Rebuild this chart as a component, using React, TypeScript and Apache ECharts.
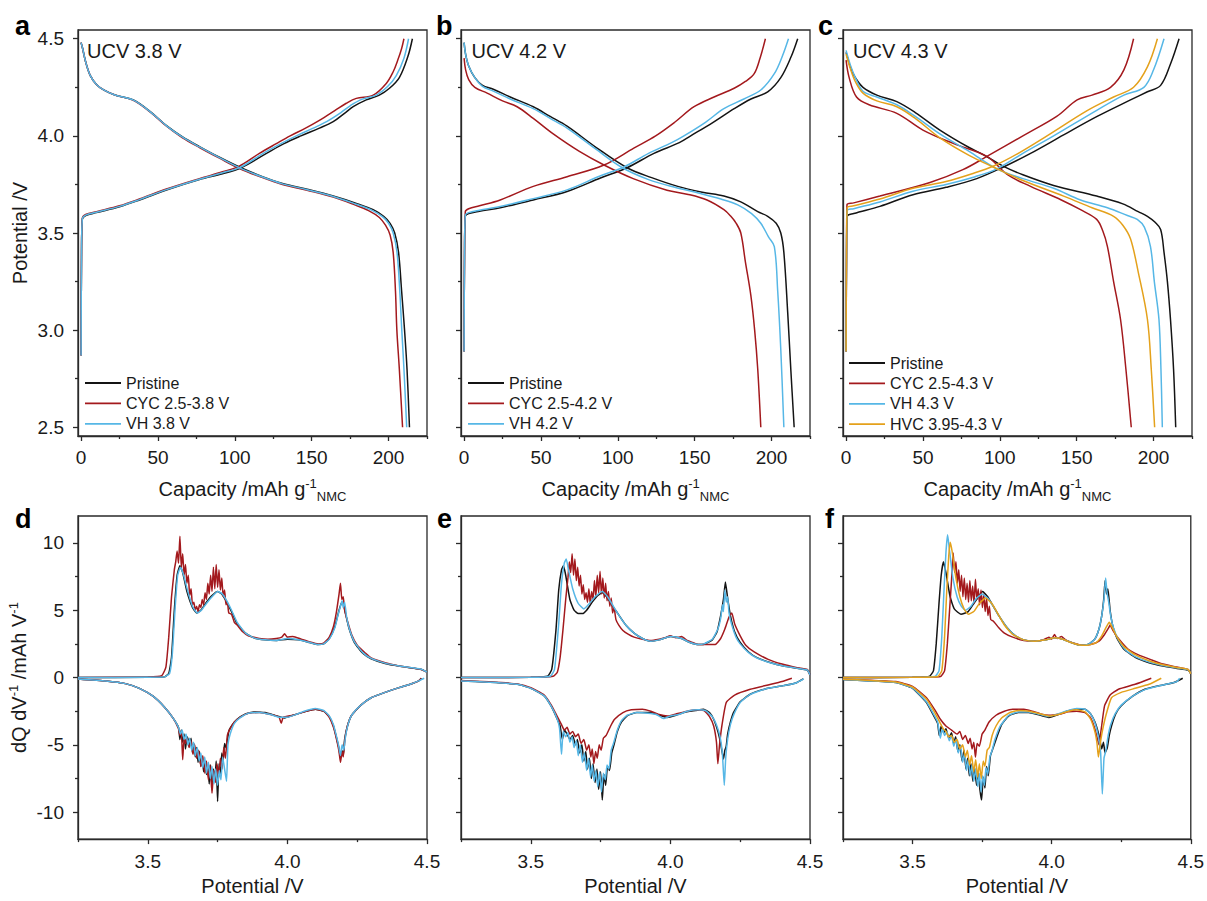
import React, { useEffect, useRef } from 'react';
import * as echarts from 'echarts';

type Pt = [number, number];

// ---------- Panel a (UCV 3.8 V): capacity (mAh/g) vs potential (V) ----------
const aPriC: Pt[] = [[0,2.87],[0.3,3.4],[0.8,3.57],[3,3.59],[10,3.605],[25,3.635],[38,3.67],[55,3.72],[77,3.775],[92,3.805],[104,3.836],[120.6,3.91],[132,3.96],[143,4.0],[155,4.04],[164,4.073],[172,4.12],[177,4.15],[185.5,4.185],[194,4.21],[200.6,4.245],[207,4.3],[212.5,4.407],[215.5,4.5]];
const aCycC: Pt[] = [[0,2.87],[0.3,3.4],[0.8,3.575],[3,3.595],[10,3.61],[25,3.64],[38,3.675],[55,3.725],[77,3.78],[92,3.815],[102.6,3.843],[116,3.91],[127,3.96],[136,4.0],[146,4.04],[155,4.08],[165,4.13],[172.5,4.168],[179,4.193],[190,4.21],[198.5,4.27],[203,4.33],[206,4.39],[208.5,4.45],[210,4.5]];
const aVhC: Pt[] = [[0,2.87],[0.3,3.4],[0.8,3.572],[3,3.592],[10,3.607],[25,3.637],[38,3.672],[55,3.722],[77,3.777],[92,3.81],[103.5,3.838],[118.5,3.91],[130,3.96],[140,4.0],[151,4.04],[160,4.075],[169,4.12],[175,4.155],[182.5,4.188],[192,4.21],[199.5,4.255],[205,4.31],[210,4.4],[213,4.5]];
const aPriD: Pt[] = [[0,4.48],[1,4.45],[3,4.38],[6,4.31],[10,4.265],[15,4.235],[22,4.21],[34,4.185],[45,4.125],[56,4.05],[66,3.995],[77,3.945],[90,3.89],[104,3.836],[118,3.79],[131,3.755],[147,3.725],[164,3.69],[180,3.65],[190,3.62],[197,3.585],[201,3.55],[204,3.5],[206.5,3.4],[208.5,3.2],[210.4,3.0],[212,2.8],[213.6,2.5]];
const aCycD: Pt[] = [[0,4.48],[1,4.45],[3,4.38],[6,4.31],[10,4.265],[15,4.235],[22,4.21],[34,4.183],[45,4.122],[56,4.047],[66,3.99],[77,3.94],[90,3.885],[103,3.832],[118,3.785],[131,3.75],[147,3.72],[164,3.685],[178,3.645],[187,3.615],[194,3.58],[198,3.54],[201,3.49],[203,3.4],[204.5,3.2],[205.4,3.0],[207,2.8],[209.1,2.5]];
const aVhD: Pt[] = [[0,4.48],[1,4.45],[3,4.38],[6,4.31],[10,4.265],[15,4.235],[22,4.21],[34,4.184],[45,4.124],[56,4.049],[66,3.993],[77,3.943],[90,3.888],[103.5,3.834],[118,3.788],[131,3.753],[147,3.723],[164,3.688],[179,3.648],[189,3.618],[196,3.584],[200,3.55],[203,3.5],[205.5,3.4],[207.3,3.2],[208.6,3.0],[210,2.8],[211.8,2.5]];

// ---------- Panel b (UCV 4.2 V) ----------
const bPriC: Pt[] = [[0,2.89],[0.3,3.4],[0.8,3.586],[3,3.6],[10,3.612],[23.5,3.63],[45,3.67],[67,3.714],[88.7,3.783],[106,3.836],[123.5,3.91],[140,3.965],[147.4,4.0],[162,4.07],[175.7,4.14],[186.6,4.19],[197.5,4.227],[206,4.3],[212.7,4.407],[217,4.5]];
const bCycC: Pt[] = [[0,2.89],[0.3,3.4],[0.8,3.61],[3,3.625],[10,3.64],[23.5,3.67],[45,3.74],[67,3.79],[91,3.85],[110.4,3.937],[124.6,4.0],[137,4.07],[149.6,4.15],[162.6,4.2],[175.7,4.245],[183,4.28],[188.7,4.32],[192.5,4.4],[196,4.5]];
const bVhC: Pt[] = [[0,2.89],[0.3,3.4],[0.8,3.592],[3,3.605],[10,3.617],[23.5,3.636],[45,3.677],[67,3.722],[88,3.792],[104,3.84],[120,3.91],[135,3.965],[143,4.0],[157,4.07],[169,4.14],[182,4.19],[193,4.236],[201.8,4.32],[207,4.41],[211,4.5]];
const bPriD: Pt[] = [[0,4.48],[1,4.42],[3,4.36],[7,4.3],[12,4.26],[19,4.24],[30,4.2],[45,4.15],[56,4.1],[67,4.05],[86,3.94],[106,3.836],[122,3.785],[139,3.74],[155,3.71],[169,3.69],[180,3.66],[191,3.61],[197.5,3.586],[203,3.55],[206,3.5],[208,3.4],[210.5,3.09],[212.5,2.8],[214.7,2.5]];
const bCycD: Pt[] = [[0,4.4],[1,4.34],[3,4.29],[7,4.25],[15,4.22],[25,4.18],[34.5,4.15],[45,4.09],[58,4.01],[75,3.92],[91,3.85],[110,3.78],[132,3.72],[145,3.7],[158,3.67],[169,3.62],[173.5,3.586],[177,3.55],[180,3.5],[183,3.35],[186.5,3.18],[189,3.0],[191,2.8],[193,2.5]];
const bVhD: Pt[] = [[0,4.48],[1,4.42],[3,4.36],[7,4.3],[12,4.255],[19,4.23],[30,4.19],[45,4.14],[56,4.09],[67,4.04],[86,3.93],[103,3.836],[120,3.775],[137,3.735],[153,3.705],[167,3.675],[178,3.645],[187,3.6],[193,3.55],[198,3.48],[201.8,3.43],[204,3.2],[206,2.9],[208,2.5]];

// ---------- Panel c (UCV 4.3 V) ----------
const cPriC: Pt[] = [[0,2.89],[0.3,3.4],[0.8,3.586],[5,3.6],[22,3.637],[43.5,3.697],[65,3.735],[85,3.78],[102.4,3.84],[120,3.91],[141.5,4.005],[163.3,4.1],[185,4.185],[196,4.227],[204.6,4.26],[211,4.37],[216.6,4.5]];
const cCycC: Pt[] = [[0,2.89],[0.3,3.4],[0.6,3.646],[5,3.655],[22,3.69],[54.6,3.76],[76,3.826],[91.6,3.894],[115,4.0],[137,4.1],[150.3,4.185],[160,4.21],[172,4.25],[180.7,4.34],[187,4.5]];
const cVhC: Pt[] = [[0,2.89],[0.3,3.4],[0.7,3.615],[5,3.625],[22,3.66],[43.5,3.715],[65,3.75],[84,3.79],[98,3.83],[115,3.91],[135,4.0],[163.3,4.133],[180.7,4.21],[193.7,4.25],[200,4.34],[206.8,4.5]];
const cHvcC: Pt[] = [[0,2.89],[0.3,3.4],[0.7,3.63],[5,3.64],[22,3.675],[43.5,3.73],[65,3.765],[82,3.805],[96,3.845],[112,3.91],[130.7,4.0],[156.8,4.13],[174,4.2],[187,4.25],[196,4.355],[202.5,4.5]];
const cPriD: Pt[] = [[0,4.43],[3,4.35],[6,4.3],[11,4.25],[20,4.21],[33,4.176],[45,4.12],[61,4.03],[80,3.94],[90,3.9],[102.4,3.843],[115,3.8],[135,3.745],[163,3.69],[180,3.65],[190,3.61],[196,3.586],[201,3.555],[204.6,3.518],[206.8,3.4],[209,3.25],[211,3.056],[213,2.8],[214.4,2.5]];
const cCycD: Pt[] = [[0,4.39],[2,4.3],[6.8,4.2],[15,4.16],[33,4.116],[50,4.03],[70,3.96],[91.6,3.894],[105,3.8],[120,3.74],[140,3.67],[152.5,3.62],[163,3.57],[167,3.51],[170,3.43],[174,3.25],[178.5,3.056],[182,2.8],[185.5,2.5]];
const cVhD: Pt[] = [[0,4.44],[3,4.36],[6,4.3],[11,4.23],[20,4.2],[33,4.16],[45,4.1],[61,4.01],[80,3.92],[98,3.83],[115,3.78],[135,3.73],[152.5,3.67],[170,3.63],[183,3.59],[189.4,3.57],[194,3.53],[198,3.43],[200.5,3.25],[203.5,3.056],[204.8,2.8],[205.7,2.5]];
const cHvcD: Pt[] = [[0,4.42],[3,4.34],[6,4.28],[11,4.22],[20,4.18],[33,4.15],[45,4.09],[61,3.99],[80,3.9],[95.7,3.84],[115,3.77],[141.5,3.69],[160,3.63],[174,3.586],[180,3.54],[185,3.47],[190,3.3],[196,3.056],[198.5,2.8],[200.7,2.5]];

// ---------- Panel d (UCV 3.8 V): potential (V) vs dQ/dV ----------
const dPriC: Pt[] = [[3.25,0],[3.5,0.02],[3.56,0.05],[3.575,0.3],[3.585,1.5],[3.595,5],[3.605,7.6],[3.615,8.3],[3.625,7.8],[3.64,6.4],[3.66,5.2],[3.675,4.8],[3.69,5.0],[3.71,5.6],[3.73,6.1],[3.75,6.4],[3.765,6.2],[3.78,5.7],[3.8,4.9],[3.82,4.0],[3.85,3.3],[3.88,2.95],[3.92,2.8],[3.96,2.75],[4.0,2.85],[4.04,2.8],[4.08,2.6],[4.11,2.45],[4.13,2.5],[4.15,2.9],[4.17,3.8],[4.185,5.0],[4.195,5.6],[4.2,5.5],[4.21,4.6],[4.22,3.7],[4.24,2.6],[4.27,1.8],[4.3,1.4],[4.35,1.05],[4.4,0.85],[4.45,0.7],[4.48,0.6],[4.5,0.4]];
const dCycC: Pt[] = [[3.25,0],[3.5,0.05],[3.55,0.15],[3.565,0.8],[3.575,3],[3.585,6],[3.595,8],[3.6,8.6],[3.605,9.4],[3.61,8.5],[3.615,10.5],[3.62,8.2],[3.625,9.2],[3.63,7.6],[3.635,8.4],[3.64,7.0],[3.645,7.6],[3.65,6.1],[3.655,6.6],[3.66,5.4],[3.665,5.6],[3.67,5.0],[3.675,5.3],[3.68,4.9],[3.685,5.4],[3.69,5.2],[3.695,5.8],[3.7,5.4],[3.705,6.3],[3.71,5.8],[3.715,7.0],[3.72,6.2],[3.725,7.6],[3.73,6.4],[3.735,8.2],[3.74,6.6],[3.745,8.4],[3.75,6.7],[3.755,8.0],[3.76,6.5],[3.765,7.4],[3.77,6.0],[3.775,6.5],[3.78,5.4],[3.785,5.6],[3.79,4.8],[3.8,4.7],[3.81,4.1],[3.82,3.9],[3.84,3.4],[3.86,3.1],[3.88,3.0],[3.9,2.9],[3.93,2.85],[3.96,2.9],[3.98,3.0],[3.99,3.25],[4.0,3.0],[4.02,3.05],[4.05,2.85],[4.08,2.65],[4.11,2.5],[4.13,2.55],[4.15,3.0],[4.165,3.8],[4.175,4.8],[4.185,6.2],[4.19,7.0],[4.195,5.8],[4.2,6.0],[4.205,5.0],[4.215,4.2],[4.23,3.2],[4.25,2.4],[4.28,1.8],[4.3,1.45],[4.35,1.1],[4.4,0.85],[4.45,0.7],[4.48,0.6],[4.5,0.4]];
const dVhC: Pt[] = [[3.25,0],[3.5,0.02],[3.56,0.05],[3.578,0.3],[3.588,1.8],[3.598,5.2],[3.607,7.6],[3.617,8.2],[3.627,7.7],[3.642,6.5],[3.66,5.3],[3.677,4.8],[3.692,5.0],[3.71,5.5],[3.73,6.0],[3.75,6.4],[3.765,6.25],[3.78,5.8],[3.8,5.0],[3.82,4.1],[3.85,3.3],[3.88,2.95],[3.92,2.8],[3.96,2.75],[4.0,2.9],[4.04,2.8],[4.08,2.6],[4.11,2.45],[4.13,2.5],[4.15,2.85],[4.17,3.7],[4.182,4.7],[4.19,5.3],[4.196,5.7],[4.2,5.2],[4.205,5.6],[4.212,4.5],[4.222,3.6],[4.24,2.65],[4.27,1.85],[4.3,1.42],[4.35,1.07],[4.4,0.86],[4.45,0.72],[4.48,0.62],[4.5,0.4]];
const dPriD: Pt[] = [[3.25,-0.1],[3.35,-0.25],[3.42,-0.45],[3.47,-0.8],[3.52,-1.4],[3.56,-2.2],[3.59,-3.0],[3.61,-3.7],[3.615,-4.6],[3.62,-3.9],[3.625,-4.8],[3.63,-4.2],[3.635,-5.3],[3.64,-4.4],[3.645,-4.6],[3.65,-5.0],[3.655,-4.5],[3.66,-5.6],[3.665,-4.9],[3.67,-5.9],[3.675,-5.2],[3.68,-6.3],[3.685,-5.5],[3.69,-6.6],[3.695,-5.9],[3.7,-7.0],[3.705,-6.3],[3.71,-7.2],[3.715,-6.6],[3.72,-7.9],[3.725,-6.5],[3.73,-8.2],[3.735,-6.8],[3.74,-7.6],[3.745,-6.2],[3.75,-9.2],[3.755,-6.4],[3.76,-7.3],[3.765,-5.6],[3.77,-6.1],[3.775,-4.9],[3.78,-5.2],[3.79,-4.0],[3.8,-3.6],[3.82,-3.1],[3.85,-2.7],[3.88,-2.55],[3.92,-2.6],[3.96,-2.85],[3.99,-3.0],[4.02,-2.8],[4.06,-2.55],[4.1,-2.35],[4.13,-2.5],[4.15,-2.9],[4.165,-3.6],[4.175,-4.4],[4.185,-5.3],[4.19,-6.0],[4.195,-5.4],[4.2,-5.8],[4.205,-4.6],[4.215,-3.6],[4.23,-2.8],[4.26,-2.1],[4.3,-1.5],[4.35,-1.1],[4.4,-0.75],[4.44,-0.5],[4.47,-0.25],[4.48,-0.05]];
const dCycD: Pt[] = [[3.25,-0.1],[3.35,-0.25],[3.42,-0.45],[3.47,-0.8],[3.52,-1.4],[3.56,-2.2],[3.59,-3.0],[3.61,-3.8],[3.615,-4.3],[3.62,-4.0],[3.625,-6.1],[3.63,-4.5],[3.635,-4.9],[3.64,-4.5],[3.648,-5.2],[3.655,-4.7],[3.662,-5.7],[3.668,-5.0],[3.675,-6.0],[3.682,-5.4],[3.69,-6.6],[3.697,-5.8],[3.704,-7.1],[3.71,-6.2],[3.717,-7.6],[3.723,-6.5],[3.73,-8.6],[3.736,-6.9],[3.742,-7.8],[3.748,-6.4],[3.754,-7.4],[3.76,-6.0],[3.766,-6.8],[3.772,-5.2],[3.778,-6.0],[3.785,-4.3],[3.795,-3.8],[3.81,-3.3],[3.83,-2.95],[3.86,-2.65],[3.9,-2.6],[3.94,-2.75],[3.97,-2.95],[3.978,-3.4],[3.985,-2.95],[4.02,-2.8],[4.06,-2.55],[4.1,-2.35],[4.13,-2.5],[4.15,-2.95],[4.165,-3.7],[4.175,-4.5],[4.185,-5.5],[4.19,-6.3],[4.196,-5.5],[4.2,-5.9],[4.206,-4.6],[4.215,-3.6],[4.23,-2.8],[4.26,-2.1],[4.3,-1.5],[4.35,-1.1],[4.4,-0.75],[4.44,-0.5],[4.47,-0.25],[4.48,-0.05]];
const dVhD: Pt[] = [[3.25,-0.1],[3.35,-0.25],[3.42,-0.45],[3.47,-0.8],[3.52,-1.4],[3.56,-2.2],[3.59,-3.0],[3.61,-3.7],[3.617,-4.2],[3.623,-3.9],[3.63,-4.6],[3.637,-4.2],[3.644,-5.0],[3.65,-4.5],[3.657,-5.4],[3.664,-4.8],[3.67,-5.8],[3.677,-5.2],[3.684,-6.2],[3.69,-5.6],[3.697,-6.7],[3.704,-5.9],[3.71,-7.1],[3.717,-6.3],[3.724,-7.5],[3.73,-6.6],[3.737,-7.9],[3.743,-6.8],[3.75,-8.0],[3.756,-6.9],[3.762,-7.6],[3.768,-5.9],[3.775,-6.8],[3.782,-7.7],[3.787,-5.0],[3.795,-4.2],[3.81,-3.4],[3.83,-3.0],[3.86,-2.65],[3.9,-2.6],[3.94,-2.75],[3.97,-2.95],[4.0,-2.95],[4.03,-2.75],[4.06,-2.5],[4.1,-2.3],[4.13,-2.45],[4.15,-2.85],[4.165,-3.5],[4.175,-4.3],[4.183,-5.0],[4.19,-5.8],[4.196,-5.0],[4.202,-5.4],[4.208,-4.4],[4.217,-3.5],[4.23,-2.8],[4.26,-2.1],[4.3,-1.5],[4.35,-1.1],[4.4,-0.75],[4.44,-0.5],[4.47,-0.25],[4.49,-0.05]];

// ---------- Panel e (UCV 4.2 V) ----------
const ePriC: Pt[] = [[3.25,0],[3.5,0.02],[3.56,0.1],[3.575,0.6],[3.59,3.5],[3.6,6.5],[3.61,8.0],[3.617,8.3],[3.625,7.6],[3.64,5.8],[3.655,5.0],[3.67,4.75],[3.685,4.75],[3.7,5.0],[3.72,5.6],[3.74,6.1],[3.756,6.3],[3.775,5.9],[3.79,5.4],[3.81,4.8],[3.84,3.9],[3.87,3.3],[3.9,2.9],[3.93,2.7],[3.96,2.8],[4.0,3.05],[4.04,2.9],[4.07,2.6],[4.1,2.45],[4.12,2.47],[4.15,2.8],[4.167,3.4],[4.18,4.6],[4.19,5.8],[4.197,7.1],[4.205,5.9],[4.215,4.6],[4.23,3.4],[4.25,2.6],[4.28,1.9],[4.31,1.48],[4.36,1.1],[4.405,0.86],[4.45,0.7],[4.49,0.56],[4.5,0.2]];
const eCycC: Pt[] = [[3.25,0],[3.5,0.02],[3.58,0.1],[3.595,0.4],[3.605,1.5],[3.615,3.5],[3.625,5.8],[3.633,7.4],[3.638,8.6],[3.643,7.8],[3.648,9.2],[3.653,7.6],[3.658,8.8],[3.663,7.2],[3.668,8.2],[3.673,6.8],[3.678,7.6],[3.683,6.2],[3.688,6.9],[3.693,5.8],[3.698,6.3],[3.703,5.6],[3.708,6.6],[3.713,5.5],[3.718,6.4],[3.723,5.8],[3.728,7.2],[3.733,6.0],[3.738,7.6],[3.743,6.3],[3.748,7.9],[3.753,6.2],[3.758,7.4],[3.763,5.9],[3.768,7.0],[3.773,5.7],[3.778,6.4],[3.783,5.3],[3.788,5.9],[3.793,4.8],[3.798,5.2],[3.805,4.3],[3.815,3.9],[3.83,3.5],[3.85,3.2],[3.87,3.0],[3.9,2.85],[3.93,2.75],[3.96,2.85],[3.98,2.95],[4.0,3.1],[4.02,2.95],[4.04,3.05],[4.06,2.75],[4.08,2.6],[4.1,2.45],[4.13,2.45],[4.16,2.45],[4.18,2.9],[4.195,3.6],[4.21,4.5],[4.22,4.8],[4.23,4.0],[4.25,3.1],[4.27,2.4],[4.3,1.9],[4.35,1.35],[4.4,1.0],[4.45,0.75],[4.49,0.6],[4.5,0.2]];
const eVhC: Pt[] = [[3.25,0],[3.5,0.02],[3.57,0.1],[3.585,0.6],[3.6,4],[3.61,7],[3.62,8.5],[3.627,8.8],[3.635,8.0],[3.65,6.6],[3.67,5.5],[3.69,5.1],[3.71,5.5],[3.73,6.0],[3.756,6.4],[3.775,6.0],[3.79,5.5],[3.81,4.8],[3.84,3.9],[3.87,3.3],[3.9,2.9],[3.93,2.7],[3.96,2.8],[4.0,3.05],[4.04,2.9],[4.07,2.6],[4.1,2.45],[4.12,2.5],[4.15,2.85],[4.17,3.6],[4.18,4.4],[4.187,5.4],[4.19,4.9],[4.195,6.5],[4.2,5.6],[4.205,6.0],[4.21,4.8],[4.22,3.9],[4.235,3.0],[4.25,2.5],[4.28,1.85],[4.31,1.45],[4.36,1.08],[4.405,0.85],[4.45,0.7],[4.49,0.56],[4.5,0.2]];
const ePriD: Pt[] = [[3.25,-0.25],[3.35,-0.35],[3.452,-0.5],[3.5,-0.8],[3.548,-1.36],[3.575,-2.2],[3.595,-3.1],[3.605,-3.6],[3.613,-4.6],[3.62,-3.9],[3.63,-4.2],[3.64,-4.6],[3.65,-4.3],[3.66,-5.0],[3.667,-4.6],[3.675,-5.6],[3.683,-5.0],[3.69,-6.2],[3.697,-5.5],[3.703,-6.8],[3.71,-6.0],[3.717,-7.5],[3.723,-6.4],[3.73,-7.8],[3.737,-6.8],[3.743,-8.3],[3.75,-7.0],[3.756,-9.1],[3.762,-7.2],[3.768,-8.0],[3.775,-6.6],[3.782,-6.9],[3.79,-5.6],[3.798,-5.0],[3.81,-4.0],[3.825,-3.3],[3.845,-2.84],[3.88,-2.6],[3.93,-2.6],[3.96,-2.8],[3.988,-2.96],[4.02,-2.8],[4.048,-2.6],[4.09,-2.45],[4.119,-2.35],[4.14,-2.6],[4.155,-3.1],[4.17,-4.0],[4.179,-4.8],[4.185,-5.5],[4.19,-6.05],[4.195,-5.4],[4.2,-5.1],[4.205,-4.2],[4.215,-3.3],[4.226,-2.6],[4.25,-1.8],[4.286,-1.24],[4.34,-0.85],[4.405,-0.6],[4.45,-0.4],[4.476,-0.1]];
const eCycD: Pt[] = [[3.25,-0.22],[3.35,-0.32],[3.452,-0.48],[3.5,-0.75],[3.548,-1.3],[3.575,-2.1],[3.595,-2.9],[3.61,-3.5],[3.62,-3.9],[3.63,-3.7],[3.64,-4.2],[3.65,-4.0],[3.66,-4.4],[3.67,-4.2],[3.68,-4.9],[3.69,-4.6],[3.7,-5.4],[3.708,-5.0],[3.715,-5.9],[3.72,-5.3],[3.726,-6.4],[3.732,-5.5],[3.738,-6.0],[3.745,-5.0],[3.752,-5.4],[3.76,-4.5],[3.77,-4.3],[3.786,-3.6],[3.8,-3.1],[3.83,-2.6],[3.86,-2.4],[3.9,-2.35],[3.93,-2.5],[3.96,-2.75],[3.99,-2.85],[4.02,-2.7],[4.05,-2.55],[4.09,-2.4],[4.12,-2.45],[4.14,-2.9],[4.155,-3.6],[4.165,-4.8],[4.17,-6.4],[4.176,-5.0],[4.185,-3.5],[4.2,-1.85],[4.23,-1.3],[4.286,-0.87],[4.35,-0.55],[4.4,-0.3],[4.435,-0.05]];
const eVhD: Pt[] = [[3.25,-0.25],[3.35,-0.35],[3.452,-0.5],[3.5,-0.8],[3.548,-1.36],[3.575,-2.2],[3.595,-3.1],[3.603,-3.8],[3.61,-5.7],[3.616,-4.0],[3.625,-4.4],[3.633,-4.1],[3.64,-4.8],[3.648,-4.4],[3.655,-5.2],[3.663,-4.7],[3.67,-5.8],[3.677,-5.0],[3.685,-6.3],[3.692,-5.6],[3.7,-6.9],[3.707,-6.0],[3.714,-7.4],[3.72,-6.5],[3.727,-7.7],[3.733,-6.9],[3.74,-8.1],[3.747,-7.0],[3.753,-8.5],[3.76,-7.1],[3.767,-7.6],[3.773,-6.5],[3.78,-6.8],[3.788,-5.4],[3.796,-4.9],[3.81,-3.9],[3.825,-3.2],[3.845,-2.8],[3.88,-2.6],[3.92,-2.65],[3.95,-2.75],[3.975,-3.05],[4.0,-2.85],[4.03,-2.75],[4.06,-2.5],[4.1,-2.4],[4.125,-2.45],[4.15,-2.9],[4.165,-3.5],[4.178,-4.4],[4.186,-5.6],[4.193,-8.0],[4.198,-6.0],[4.205,-4.6],[4.215,-3.5],[4.228,-2.7],[4.25,-1.85],[4.286,-1.25],[4.34,-0.85],[4.405,-0.6],[4.45,-0.4],[4.478,-0.1]];

// ---------- Panel f (UCV 4.3 V) ----------
const fPriC: Pt[] = [[3.25,0],[3.5,0.02],[3.56,0.08],[3.575,0.5],[3.585,2.5],[3.595,5.5],[3.603,7.6],[3.611,8.6],[3.62,7.8],[3.635,6.0],[3.65,5.1],[3.674,4.7],[3.7,4.9],[3.72,5.5],[3.74,6.1],[3.751,6.4],[3.77,6.0],[3.79,5.3],[3.81,4.6],[3.84,3.7],[3.87,3.1],[3.9,2.8],[3.94,2.7],[3.98,2.8],[4.01,2.95],[4.04,2.85],[4.07,2.6],[4.1,2.4],[4.13,2.45],[4.155,2.85],[4.17,3.6],[4.18,4.6],[4.187,5.8],[4.192,7.2],[4.197,6.2],[4.202,6.6],[4.21,5.0],[4.22,3.8],[4.235,2.9],[4.26,2.1],[4.3,1.5],[4.35,1.1],[4.4,0.85],[4.45,0.68],[4.49,0.55],[4.5,0.3]];
const fCycC: Pt[] = [[3.25,0],[3.5,0.02],[3.6,0.08],[3.615,0.5],[3.625,2.5],[3.633,5.0],[3.64,7.2],[3.646,9.25],[3.651,7.8],[3.656,8.6],[3.661,7.0],[3.666,8.0],[3.671,6.4],[3.676,7.6],[3.681,6.0],[3.686,7.4],[3.691,5.8],[3.696,7.0],[3.701,5.6],[3.706,7.2],[3.711,5.7],[3.716,6.8],[3.721,5.5],[3.726,7.3],[3.731,5.8],[3.736,6.6],[3.741,5.4],[3.746,6.5],[3.751,5.2],[3.756,6.2],[3.761,4.9],[3.766,5.9],[3.771,4.6],[3.776,5.3],[3.781,4.3],[3.79,4.2],[3.81,3.7],[3.83,3.3],[3.86,3.0],[3.9,2.75],[3.94,2.7],[3.97,2.8],[3.99,3.0],[4.0,2.85],[4.01,3.2],[4.02,2.9],[4.035,3.05],[4.05,2.8],[4.08,2.55],[4.11,2.4],[4.14,2.45],[4.17,2.7],[4.19,3.2],[4.205,3.7],[4.21,3.9],[4.22,3.5],[4.24,2.9],[4.275,2.1],[4.31,1.7],[4.36,1.3],[4.4,1.0],[4.45,0.78],[4.49,0.6],[4.5,0.3]];
const fVhC: Pt[] = [[3.25,0],[3.5,0.02],[3.58,0.08],[3.595,0.5],[3.605,3.0],[3.613,6.5],[3.62,9.3],[3.626,10.6],[3.632,9.6],[3.645,7.4],[3.66,6.0],[3.675,5.3],[3.69,5.0],[3.71,5.3],[3.73,5.9],[3.75,6.2],[3.77,5.9],[3.79,5.3],[3.81,4.6],[3.84,3.7],[3.87,3.1],[3.9,2.8],[3.94,2.7],[3.98,2.8],[4.01,2.95],[4.04,2.85],[4.07,2.6],[4.1,2.4],[4.13,2.45],[4.155,2.85],[4.17,3.6],[4.18,4.6],[4.188,5.8],[4.194,7.4],[4.199,6.3],[4.205,5.6],[4.212,4.6],[4.222,3.7],[4.24,2.8],[4.265,2.05],[4.3,1.55],[4.35,1.15],[4.4,0.9],[4.45,0.72],[4.49,0.58],[4.5,0.3]];
const fHvcC: Pt[] = [[3.25,0],[3.5,0.02],[3.59,0.08],[3.605,0.5],[3.615,3.0],[3.623,6.5],[3.63,9.0],[3.635,10.05],[3.642,9.4],[3.655,7.5],[3.67,6.0],[3.685,5.1],[3.7,4.7],[3.72,4.9],[3.74,5.5],[3.763,5.9],[3.785,5.5],[3.805,4.8],[3.83,3.9],[3.86,3.2],[3.9,2.8],[3.94,2.7],[3.98,2.8],[4.01,2.95],[4.04,2.85],[4.07,2.6],[4.1,2.42],[4.13,2.4],[4.16,2.6],[4.18,3.1],[4.195,3.7],[4.207,4.1],[4.218,3.7],[4.235,3.0],[4.26,2.3],[4.3,1.7],[4.35,1.25],[4.4,0.95],[4.45,0.75],[4.49,0.6],[4.5,0.3]];
const fPriD: Pt[] = [[3.25,-0.15],[3.35,-0.25],[3.44,-0.37],[3.5,-0.8],[3.55,-1.85],[3.575,-2.8],[3.59,-3.4],[3.596,-4.3],[3.603,-3.6],[3.612,-4.1],[3.62,-3.8],[3.63,-4.5],[3.64,-4.1],[3.648,-4.9],[3.655,-4.4],[3.663,-5.5],[3.67,-5.0],[3.678,-6.2],[3.685,-5.4],[3.692,-6.8],[3.698,-6.0],[3.704,-7.3],[3.71,-6.4],[3.717,-7.7],[3.723,-6.7],[3.73,-8.0],[3.736,-7.0],[3.742,-8.3],[3.748,-9.1],[3.754,-7.4],[3.76,-8.2],[3.766,-6.6],[3.772,-7.3],[3.78,-5.8],[3.79,-5.2],[3.8,-4.6],[3.82,-3.5],[3.846,-2.84],[3.88,-2.6],[3.917,-2.6],[3.95,-2.75],[3.99,-2.96],[4.03,-2.7],[4.06,-2.47],[4.09,-2.35],[4.12,-2.35],[4.14,-2.7],[4.156,-3.33],[4.17,-4.3],[4.18,-5.3],[4.186,-4.8],[4.192,-5.6],[4.2,-5.2],[4.207,-4.3],[4.215,-3.6],[4.23,-2.7],[4.25,-2.1],[4.29,-1.4],[4.335,-0.87],[4.4,-0.55],[4.44,-0.37],[4.471,-0.05]];
const fCycD: Pt[] = [[3.25,-0.12],[3.35,-0.2],[3.44,-0.3],[3.5,-0.65],[3.55,-1.5],[3.58,-2.4],[3.6,-3.1],[3.62,-3.6],[3.64,-3.9],[3.66,-4.2],[3.67,-4.0],[3.68,-4.6],[3.69,-4.3],[3.7,-4.9],[3.707,-4.5],[3.714,-5.3],[3.72,-4.8],[3.726,-5.9],[3.732,-4.9],[3.74,-5.1],[3.75,-4.2],[3.76,-3.9],[3.775,-3.3],[3.8,-2.8],[3.83,-2.5],[3.86,-2.35],[3.9,-2.35],[3.93,-2.5],[3.96,-2.7],[3.99,-2.8],[4.03,-2.7],[4.06,-2.55],[4.09,-2.5],[4.12,-2.6],[4.14,-3.0],[4.155,-3.8],[4.165,-4.6],[4.17,-5.0],[4.177,-4.0],[4.19,-2.1],[4.21,-1.3],[4.24,-0.87],[4.3,-0.5],[4.358,-0.05]];
const fVhD: Pt[] = [[3.25,-0.15],[3.35,-0.25],[3.44,-0.37],[3.5,-0.78],[3.55,-1.8],[3.575,-2.7],[3.59,-3.3],[3.6,-4.5],[3.607,-3.8],[3.615,-4.3],[3.623,-4.0],[3.632,-4.7],[3.64,-4.3],[3.648,-5.1],[3.656,-4.6],[3.664,-5.6],[3.672,-5.1],[3.68,-6.3],[3.687,-5.6],[3.694,-6.9],[3.7,-6.1],[3.707,-7.3],[3.714,-6.5],[3.72,-7.7],[3.727,-6.8],[3.734,-8.1],[3.74,-7.1],[3.746,-8.5],[3.752,-7.3],[3.758,-8.0],[3.764,-6.7],[3.77,-7.2],[3.778,-5.9],[3.786,-5.4],[3.796,-4.6],[3.815,-3.6],[3.846,-2.8],[3.88,-2.55],[3.917,-2.55],[3.95,-2.7],[3.99,-2.9],[4.03,-2.65],[4.06,-2.45],[4.09,-2.3],[4.12,-2.35],[4.14,-2.7],[4.156,-3.4],[4.168,-4.4],[4.176,-5.6],[4.182,-8.65],[4.188,-6.0],[4.195,-5.4],[4.203,-4.3],[4.212,-3.5],[4.228,-2.7],[4.25,-2.05],[4.29,-1.4],[4.335,-0.9],[4.4,-0.55],[4.45,-0.3],[4.46,-0.05]];
const fHvcD: Pt[] = [[3.25,-0.12],[3.35,-0.22],[3.44,-0.33],[3.5,-0.7],[3.55,-1.6],[3.58,-2.6],[3.6,-3.4],[3.61,-3.8],[3.62,-4.0],[3.63,-4.4],[3.64,-4.3],[3.65,-4.8],[3.66,-4.6],[3.67,-5.3],[3.68,-5.0],[3.69,-5.9],[3.697,-5.4],[3.705,-6.5],[3.712,-5.8],[3.72,-7.0],[3.727,-6.1],[3.734,-7.4],[3.74,-6.4],[3.747,-7.5],[3.754,-6.2],[3.76,-6.6],[3.768,-5.4],[3.776,-5.2],[3.786,-4.3],[3.8,-3.6],[3.82,-3.0],[3.85,-2.6],[3.88,-2.45],[3.92,-2.5],[3.95,-2.65],[3.99,-2.85],[4.03,-2.7],[4.06,-2.5],[4.09,-2.4],[4.12,-2.55],[4.14,-3.1],[4.155,-4.0],[4.163,-4.9],[4.168,-5.9],[4.174,-5.0],[4.182,-4.0],[4.195,-2.8],[4.215,-1.5],[4.25,-1.1],[4.3,-0.8],[4.35,-0.5],[4.394,-0.05]];

// ---------- Axis tick values ----------
const capTicks = [0, 50, 100, 150, 200];
const capMinor = [25, 75, 125, 175, 225];
const potTicks = [2.5, 3.0, 3.5, 4.0, 4.5];
const potMinor = [2.75, 3.25, 3.75, 4.25];
const vTicks = [3.5, 4.0, 4.5];
const vMinor = [3.25, 3.75, 4.25];
const dqTicks = [-10, -5, 0, 5, 10];
const dqMinor = [-7.5, -2.5, 2.5, 7.5];

const C_PRI = '#141414';
const C_CYC = '#a3191d';
const C_VH = '#56b7e6';
const C_HVC = '#e4a11b';
const AX = '#2a2a2a';
const TXT = '#1a1a1a';
const FONT = 'Arial, "Liberation Sans", Helvetica, sans-serif';

type Trace = { name: string; color: string; branches: Pt[][] };
type Panel = {
  letter: string; left: number; top: number; height: number; kind: 'cap' | 'dq';
  tag?: string; yLabels: boolean; legendTop?: number; legendLeft?: number; traces: Trace[];
};

const panels: Panel[] = [
  { letter: 'a', left: 78, top: 30, height: 406, kind: 'cap', tag: 'UCV 3.8 V', yLabels: true, legendTop: 375, legendLeft: 85,
    traces: [
      { name: 'Pristine', color: C_PRI, branches: [aPriC, aPriD] },
      { name: 'CYC 2.5-3.8 V', color: C_CYC, branches: [aCycC, aCycD] },
      { name: 'VH 3.8 V', color: C_VH, branches: [aVhC, aVhD] },
    ] },
  { letter: 'b', left: 461, top: 30, height: 406, kind: 'cap', tag: 'UCV 4.2 V', yLabels: false, legendTop: 375, legendLeft: 468,
    traces: [
      { name: 'Pristine', color: C_PRI, branches: [bPriC, bPriD] },
      { name: 'CYC 2.5-4.2 V', color: C_CYC, branches: [bCycC, bCycD] },
      { name: 'VH 4.2 V', color: C_VH, branches: [bVhC, bVhD] },
    ] },
  { letter: 'c', left: 843, top: 30, height: 406, kind: 'cap', tag: 'UCV 4.3 V', yLabels: false, legendTop: 355, legendLeft: 849,
    traces: [
      { name: 'Pristine', color: C_PRI, branches: [cPriC, cPriD] },
      { name: 'CYC 2.5-4.3 V', color: C_CYC, branches: [cCycC, cCycD] },
      { name: 'VH 4.3 V', color: C_VH, branches: [cVhC, cVhD] },
      { name: 'HVC 3.95-4.3 V', color: C_HVC, branches: [cHvcC, cHvcD] },
    ] },
  { letter: 'd', left: 78, top: 516, height: 325, kind: 'dq', yLabels: true,
    traces: [
      { name: 'Pristine', color: C_PRI, branches: [dPriC, dPriD] },
      { name: 'CYC 2.5-3.8 V', color: C_CYC, branches: [dCycC, dCycD] },
      { name: 'VH 3.8 V', color: C_VH, branches: [dVhC, dVhD] },
    ] },
  { letter: 'e', left: 461, top: 516, height: 325, kind: 'dq', yLabels: false,
    traces: [
      { name: 'Pristine', color: C_PRI, branches: [ePriC, ePriD] },
      { name: 'CYC 2.5-4.2 V', color: C_CYC, branches: [eCycC, eCycD] },
      { name: 'VH 4.2 V', color: C_VH, branches: [eVhC, eVhD] },
    ] },
  { letter: 'f', left: 843, top: 516, height: 325, kind: 'dq', yLabels: false,
    traces: [
      { name: 'Pristine', color: C_PRI, branches: [fPriC, fPriD] },
      { name: 'CYC 2.5-4.3 V', color: C_CYC, branches: [fCycC, fCycD] },
      { name: 'VH 4.3 V', color: C_VH, branches: [fVhC, fVhD] },
      { name: 'HVC 3.95-4.3 V', color: C_HVC, branches: [fHvcC, fHvcD] },
    ] },
];

const richSS = {
  sup: { fontSize: 13, lineHeight: 13, verticalAlign: 'top' as const, padding: [2, 0, 0, 0], fontFamily: FONT, color: TXT },
  sub: { fontSize: 13, lineHeight: 13, verticalAlign: 'bottom' as const, fontFamily: FONT, color: TXT },
};

function buildOption() {
  const grid: any[] = [];
  const xAxis: any[] = [];
  const yAxis: any[] = [];
  const series: any[] = [];
  const legend: any[] = [];
  const graphic: any[] = [];

  panels.forEach((p, i) => {
    const cap = p.kind === 'cap';
    grid.push({ left: p.left, top: p.top, width: 349, height: p.height, show: true, borderColor: AX, borderWidth: 1.3, backgroundColor: 'rgba(0,0,0,0)' });

    const nameStyle = { fontSize: 20, lineHeight: 28, color: TXT, fontFamily: FONT, rich: richSS };
    const tickLine = { color: AX, width: 1.3 };

    xAxis.push({
      gridIndex: i, type: 'value', min: cap ? -2 : 3.25, max: cap ? 225 : 4.5, position: 'bottom',
      axisLine: { show: true, onZero: false, lineStyle: tickLine },
      axisTick: { show: true, length: 5, customValues: cap ? capTicks : vTicks, lineStyle: tickLine },
      axisLabel: { show: true, customValues: cap ? capTicks : vTicks, margin: cap ? 12 : 13,
        formatter: (v: number) => (cap ? String(v) : v.toFixed(1)), fontSize: 19, color: TXT, fontFamily: FONT },
      splitLine: { show: false },
      name: cap ? 'Capacity /mAh g{sup|-1}{sub|NMC}' : 'Potential /V', nameLocation: 'middle', nameGap: cap ? 39 : 27,
      nameTextStyle: nameStyle,
    });
    xAxis.push({
      gridIndex: i, type: 'value', min: cap ? -2 : 3.25, max: cap ? 225 : 4.5, position: 'bottom',
      axisLine: { show: false, onZero: false },
      axisTick: { show: true, length: 3, customValues: cap ? capMinor : vMinor, lineStyle: tickLine },
      axisLabel: { show: false }, splitLine: { show: false },
    });
    yAxis.push({
      gridIndex: i, type: 'value', min: cap ? 2.455 : -12, max: cap ? 4.545 : 12, position: 'left',
      axisLine: { show: true, onZero: false, lineStyle: tickLine },
      axisTick: { show: true, length: 5, customValues: cap ? potTicks : dqTicks, lineStyle: tickLine },
      axisLabel: { show: p.yLabels, customValues: cap ? potTicks : dqTicks, margin: 14,
        formatter: (v: number) => (cap ? v.toFixed(1) : String(v)), fontSize: 19, color: TXT, fontFamily: FONT },
      splitLine: { show: false },
      name: p.yLabels ? (cap ? 'Potential /V' : 'dQ dV{sup|-1} /mAh V{sup|-1}') : '',
      nameLocation: 'middle', nameGap: 39, nameTextStyle: nameStyle,
    });
    yAxis.push({
      gridIndex: i, type: 'value', min: cap ? 2.455 : -12, max: cap ? 4.545 : 12, position: 'left',
      axisLine: { show: false, onZero: false },
      axisTick: { show: true, length: 3, customValues: cap ? potMinor : dqMinor, lineStyle: tickLine },
      axisLabel: { show: false }, splitLine: { show: false },
    });

    p.traces.forEach((t) => {
      t.branches.forEach((b) => {
        series.push({
          type: 'line', name: t.name, xAxisIndex: 2 * i, yAxisIndex: 2 * i, data: b,
          showSymbol: false, symbol: 'none', clip: true, silent: true, smooth: cap ? 0.35 : 0.15,
          lineStyle: { color: t.color, width: 1.5 }, itemStyle: { color: t.color },
        });
      });
    });

    if (p.legendTop !== undefined) {
      legend.push({
        data: p.traces.map((t) => t.name), orient: 'vertical', left: p.legendLeft, top: p.legendTop,
        icon: 'rect', itemWidth: 36, itemHeight: 1.8, itemGap: 4.4, padding: 0, selectedMode: false,
        textStyle: { fontSize: 16, lineHeight: 16, color: TXT, fontFamily: FONT, padding: [0, 0, 0, 0] },
      });
    }

    const letterX = [15, 436, 818, 15, 437, 825][i];
    const baseY = cap ? 35 : 528;
    graphic.push({ type: 'text', x: letterX, y: baseY - 9, style: { text: p.letter, font: `bold 27px ${FONT}`, fill: '#000', verticalAlign: 'middle' } });
    if (p.tag) {
      const tx = [87, 471.5, 853][i];
      graphic.push({ type: 'text', x: tx, y: 51, style: { text: p.tag, font: `20px ${FONT}`, fill: TXT, verticalAlign: 'middle' } });
    }
  });

  return { animation: false, backgroundColor: '#ffffff', grid, xAxis, yAxis, series, legend, graphic };
}

export default function App() {
  const ref = useRef<HTMLDivElement>(null);
  useEffect(() => {
    if (!ref.current) return;
    const chart = echarts.init(ref.current, undefined, { renderer: 'svg' });
    chart.setOption(buildOption() as any);
    return () => chart.dispose();
  }, []);
  return <div ref={ref} style={{ position: 'absolute', left: 0, top: 0, width: 1207, height: 901, background: '#fff' }} />;
}
